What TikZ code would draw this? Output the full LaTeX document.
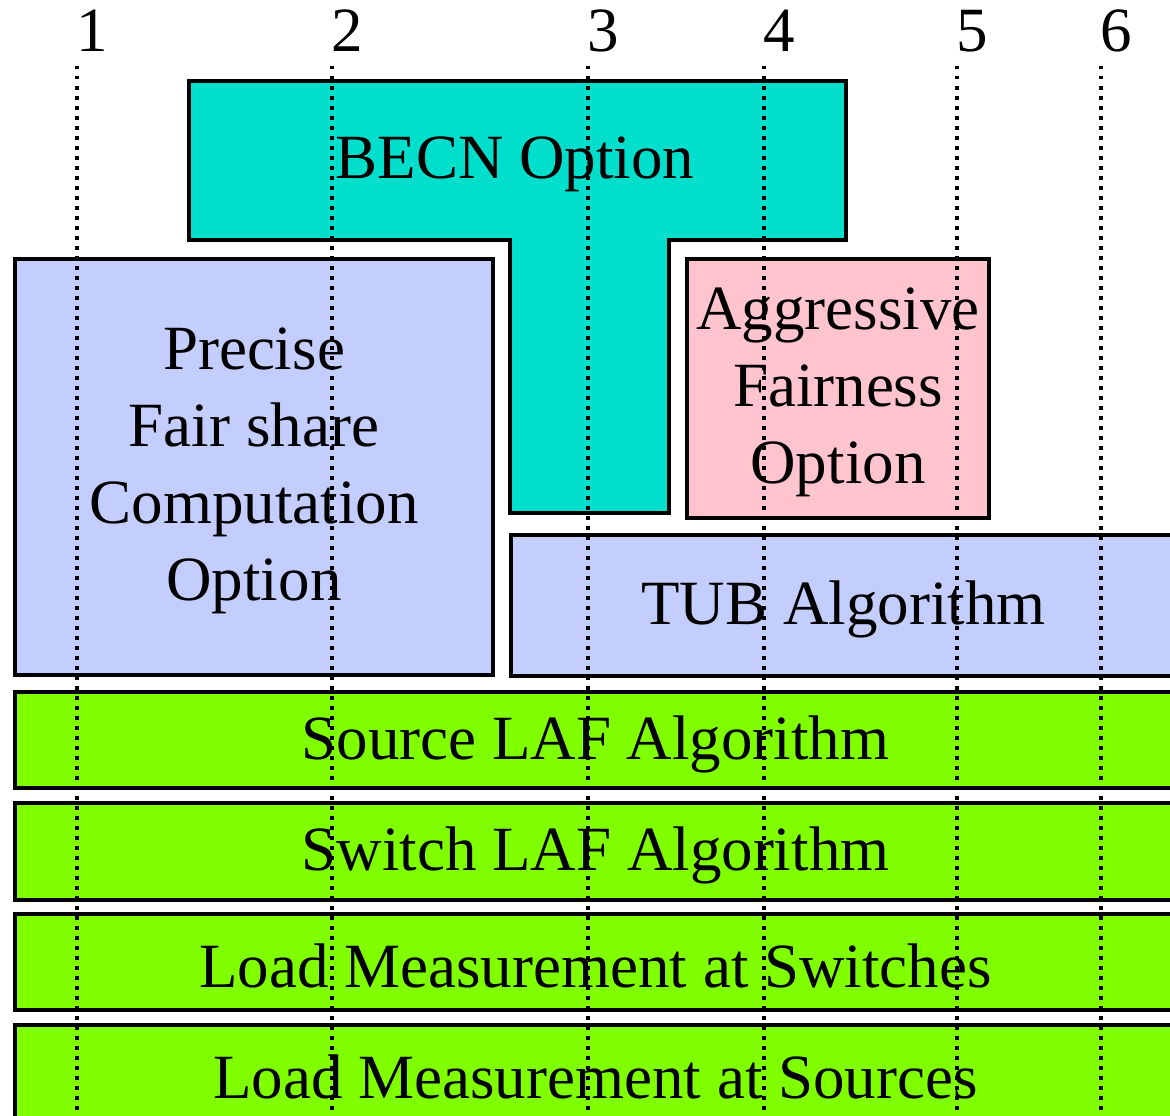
\documentclass[tikz,border=0pt]{standalone}
\usepackage{fontspec}
\setmainfont{Liberation Serif}
\definecolor{becn}{RGB}{0,223,204}
\definecolor{lav}{RGB}{195,206,255}
\definecolor{rose}{RGB}{255,196,206}
\definecolor{lime}{RGB}{128,255,0}
\begin{document}
\begin{tikzpicture}[x=1pt,y=-1pt,
  every node/.style={font=\fontsize{63}{77}\selectfont},
  blk/.style={draw=black,line width=3.5pt,line join=miter,inner sep=0pt},
  lbl/.style={inner sep=0pt,align=center,yshift=-4pt},
  grid/.style={line width=3.5pt,dash pattern=on 3.5pt off 6.5pt},
  num/.style={inner sep=0pt,anchor=base}]
\clip (0,0) rectangle (1170,1116);
\fill[white] (0,0) rectangle (1170,1116);

% T-shaped BECN block
\draw[fill=becn,line width=3.5pt,line join=miter]
  (189,81) -- (846,81) -- (846,240) -- (669,240) -- (669,513)
  -- (510,513) -- (510,240) -- (189,240) -- cycle;
\node[lbl] (becn) at (515,160) {BECN Option};

% option and algorithm blocks
\node[blk,fill=lav,minimum width=478pt,minimum height=416pt] (precise) at (254,467) {};
\node[lbl] (precise-t) at (precise.center) {Precise\\Fair share\\Computation\\Option};
\node[blk,fill=rose,minimum width=302pt,minimum height=259pt] (aggr) at (838,388.5) {};
\node[lbl] (aggr-t) at (aggr.center) {Aggressive\\Fairness\\Option};
\node[blk,fill=lav,minimum width=665pt,minimum height=141pt] (tub) at (843.5,605.5) {};
\node[lbl] (tub-t) at (tub.center) {TUB Algorithm};

% stacked base layers
\node[blk,fill=lime,minimum width=1161pt,minimum height=96pt] (srclaf) at (595.5,740) {};
\node[lbl] (srclaf-t) at (srclaf.center) {Source LAF Algorithm};
\node[blk,fill=lime,minimum width=1161pt,minimum height=97pt] (swlaf) at (595.5,851.5) {};
\node[lbl] (swlaf-t) at (swlaf.center) {Switch LAF Algorithm};
\node[blk,fill=lime,minimum width=1161pt,minimum height=96pt] (lmsw) at (595.5,962) {};
\node[lbl] (lmsw-t) at (lmsw.center) {Load Measurement at Switches};
\node[blk,fill=lime,minimum width=1161pt,minimum height=96pt] (lmsrc) at (595.5,1073) {};
\node[lbl] (lmsrc-t) at (lmsrc.center) {Load Measurement at Sources};

% numbered dotted guide lines
\foreach \i/\x in {1/77,2/332,3/588,4/764,5/957,6/1101}{
  \node[num] (n\i) at (\x+15,52) {\i};
  \coordinate (t\i) at (\x,66);
  \coordinate (b\i) at (\x,1116);
  \draw[grid] (t\i) -- (b\i);
}
\end{tikzpicture}
\end{document}
